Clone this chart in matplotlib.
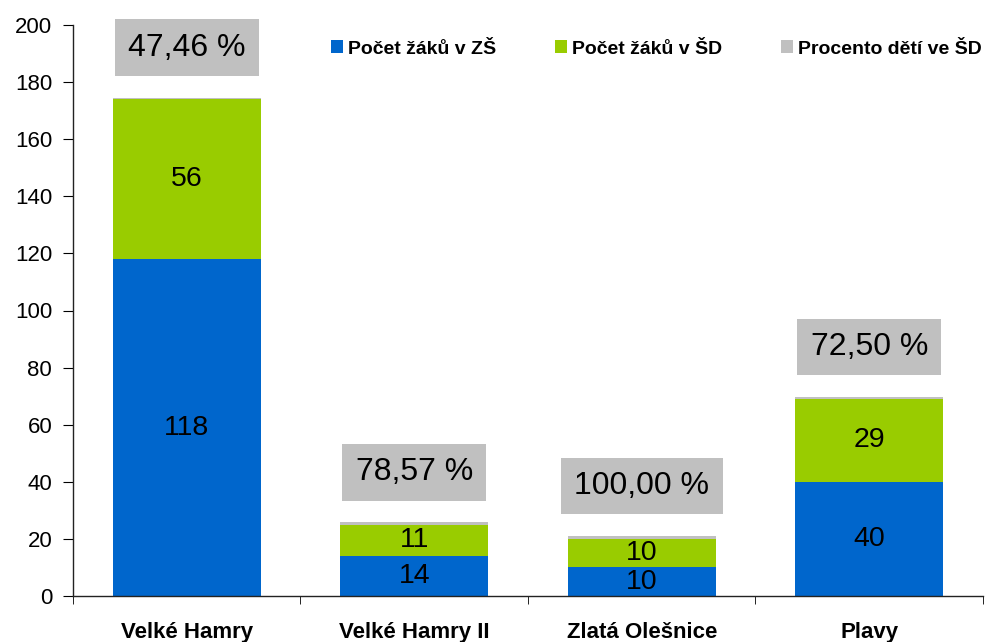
import numpy as np
import matplotlib.pyplot as plt

plt.rcParams['font.family'] = ['Liberation Sans', 'DejaVu Sans']

skoly = ['Velké Hamry', 'Velké Hamry II', 'Zlatá Olešnice', 'Plavy']
zaci_zs = [118, 14, 10, 40]
zaci_sd = [56, 11, 10, 29]
procento_sd = [47.46, 78.57, 100.00, 72.50]

blue = '#0066CC'
green = '#99CC00'
gray = '#C0C0C0'

fig = plt.figure(figsize=(9.95, 6.42), dpi=100)
ax = fig.add_axes([73/995, 46/642, 910/995, 571/642])

x = np.arange(len(skoly))
w = 0.65
zs = np.array(zaci_zs)
sd = np.array(zaci_sd)
pc = np.array(procento_sd) / 100

ax.bar(x, zs, w, color=blue, label='Počet žáků v ZŠ')
ax.bar(x, sd, w, bottom=zs, color=green, label='Počet žáků v ŠD')
ax.bar(x, pc, w, bottom=zs + sd, color=gray, label='Procento dětí ve ŠD')

for i in range(len(skoly)):
    ax.text(x[i], zs[i] / 2, str(zaci_zs[i]), ha='center', va='center', fontsize=20.5)
    ax.text(x[i], zs[i] + sd[i] / 2, str(zaci_sd[i]), ha='center', va='center', fontsize=20.5)
    lbl = ('%.2f %%' % procento_sd[i]).replace('.', ',')
    ax.annotate(lbl, (x[i], zs[i] + sd[i] + pc[i]), xytext=(0, 36), textcoords='offset points',
                ha='center', va='center', fontsize=23,
                bbox=dict(boxstyle='square,pad=0.42', fc=gray, ec='none'))

ax.set_xlim(-0.5, 3.5)
ax.set_ylim(0, 200)
ax.set_yticks(np.arange(0, 201, 20))
ax.tick_params(axis='y', labelsize=16, length=7, direction='out', pad=8)

ax.set_xticks(x)
ax.set_xticklabels(skoly, fontsize=16, fontweight='bold')
ax.tick_params(axis='x', length=0, pad=19)
ax.set_xticks(np.arange(-0.5, 4, 1), minor=True)
ax.tick_params(axis='x', which='minor', length=6, direction='out')

ax.spines['top'].set_visible(False)
ax.spines['right'].set_visible(False)
for s in ['left', 'bottom']:
    ax.spines[s].set_color('#222222')
    ax.spines[s].set_linewidth(1)

leg = fig.legend(loc='center left', bbox_to_anchor=(331/995, 1 - 49/642), ncol=3,
                 frameon=False, prop={'weight': 'bold', 'size': 14},
                 handlelength=0.6, handleheight=0.6, handletextpad=0.3,
                 columnspacing=3.0, borderpad=0, borderaxespad=0)

fig.savefig('out.png', dpi=100)
